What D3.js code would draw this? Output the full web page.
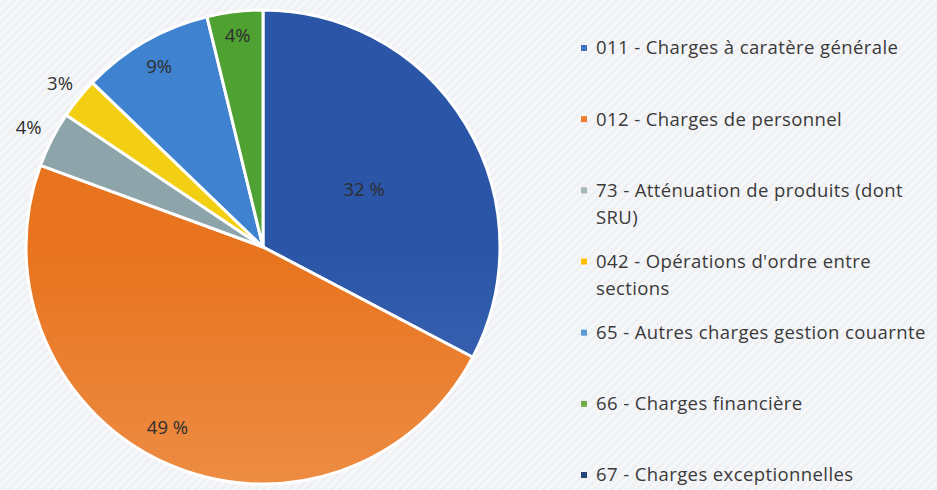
<!DOCTYPE html>
<html><head><meta charset="utf-8">
<script src="https://cdn.jsdelivr.net/npm/d3@7"></script>
<style>html,body{margin:0;padding:0;background:#f1f2f5;}svg{display:block;}</style>
</head><body>
<svg id="chart" width="937" height="490"></svg>
<script>
const categories = [
  "011 - Charges à caratère générale",
  "012 - Charges de personnel",
  "73 - Atténuation de produits (dont SRU)",
  "042 - Opérations d'ordre entre sections",
  "65 - Autres charges gestion couarnte",
  "66 - Charges financière",
  "67 - Charges exceptionnelles"
];
const legendLines = [
  ["011 - Charges à caratère générale"],
  ["012 - Charges de personnel"],
  ["73 - Atténuation de produits (dont", "SRU)"],
  ["042 - Opérations d'ordre entre", "sections"],
  ["65 - Autres charges gestion couarnte"],
  ["66 - Charges financière"],
  ["67 - Charges exceptionnelles"]
];
const values = [32.7, 47.9, 3.8, 2.8, 9.0, 3.8, 0];
const pctLabels = ["32 %", "49 %", "4%", "3%", "9%", "4%", ""];
const colorsTop = ["#2b55a6", "#e8741f", "#8ea4ab", "#f2cf12", "#3f82cf", "#4fa232", "#1f3570"];
const colorsBottom = ["#5f8bd0", "#f1a66a", "#b3c3c8", "#f8e36a", "#86b7e8", "#8acb6e", "#1f3570"];
const legendColors = ["#4472c4", "#ed7d31", "#a5b5ba", "#ffc000", "#5b9bd5", "#70ad47", "#264478"];

const svg = d3.select("#chart");
const defs = svg.append("defs");
const pat = defs.append("pattern").attr("id","bg").attr("width",6).attr("height",6)
  .attr("patternUnits","userSpaceOnUse").attr("patternTransform","rotate(45)");
pat.append("rect").attr("width",6).attr("height",6).attr("fill","#eef0f3");
pat.append("rect").attr("width",3).attr("height",6).attr("fill","#f6f7f9");
svg.append("rect").attr("width",937).attr("height",490).attr("fill","url(#bg)");

const cx = 263, cy = 247, r = 237;
categories.forEach((c,i)=>{
  const g = defs.append("linearGradient").attr("id","g"+i)
    .attr("gradientUnits","userSpaceOnUse").attr("x1",0).attr("y1",cy-r).attr("x2",0).attr("y2",cy+r);
  g.append("stop").attr("offset","0%").attr("stop-color",colorsTop[i]);
  g.append("stop").attr("offset","100%").attr("stop-color",colorsBottom[i]);
});

const pie = d3.pie().sort(null).value(d=>d.v);
const arcs = pie(values.map((v,i)=>({v,i})));
const arc = d3.arc().innerRadius(0).outerRadius(r);
const gPie = svg.append("g").attr("transform",`translate(${cx},${cy})`);
gPie.selectAll("path").data(arcs.filter(a=>a.data.v>0)).join("path")
  .attr("d",arc).attr("fill",d=>`url(#g${d.data.i})`)
  .attr("stroke","#ffffff").attr("stroke-width",3).attr("stroke-linejoin","round");

const labelRad = [0.49, 0.86, 1.11, 1.1, 0.88, 0.9, 0];
const labelShift = [0.03, 0.07, 0, 0, 0, 0, 0];
const labelPos = d => {
  const i = d.data.i, a = (d.startAngle + d.endAngle)/2 + labelShift[i], rr = r*labelRad[i];
  return [Math.sin(a)*rr, -Math.cos(a)*rr];
};
gPie.selectAll("text").data(arcs.filter(a=>a.data.v>0)).join("text")
  .attr("transform",d=>`translate(${labelPos(d)})`)
  .attr("text-anchor","middle").attr("dy","0.35em")
  .attr("font-family","'Open Sans', sans-serif").attr("font-size",18.5)
  .attr("fill","#2e2e2e").text(d=>pctLabels[d.data.i]);

// legend
const lg = svg.append("g").attr("transform","translate(578,0)");
const itemY = d3.scaleLinear().domain([0,6]).range([48,475]);
legendLines.forEach((lines,i)=>{
  const y = itemY(i);
  lg.append("rect").attr("x",3).attr("y",y-3).attr("width",6).attr("height",6).attr("fill",legendColors[i]);
  lines.forEach((t,j)=>{
    lg.append("text").attr("x",18).attr("y",y+j*27).attr("dy","0.35em")
      .attr("font-family","'Open Sans', sans-serif").attr("font-size",18.5)
      .attr("letter-spacing",0.4)
      .attr("fill","#3a3a3a").text(t);
  });
});
</script>
</body></html>
